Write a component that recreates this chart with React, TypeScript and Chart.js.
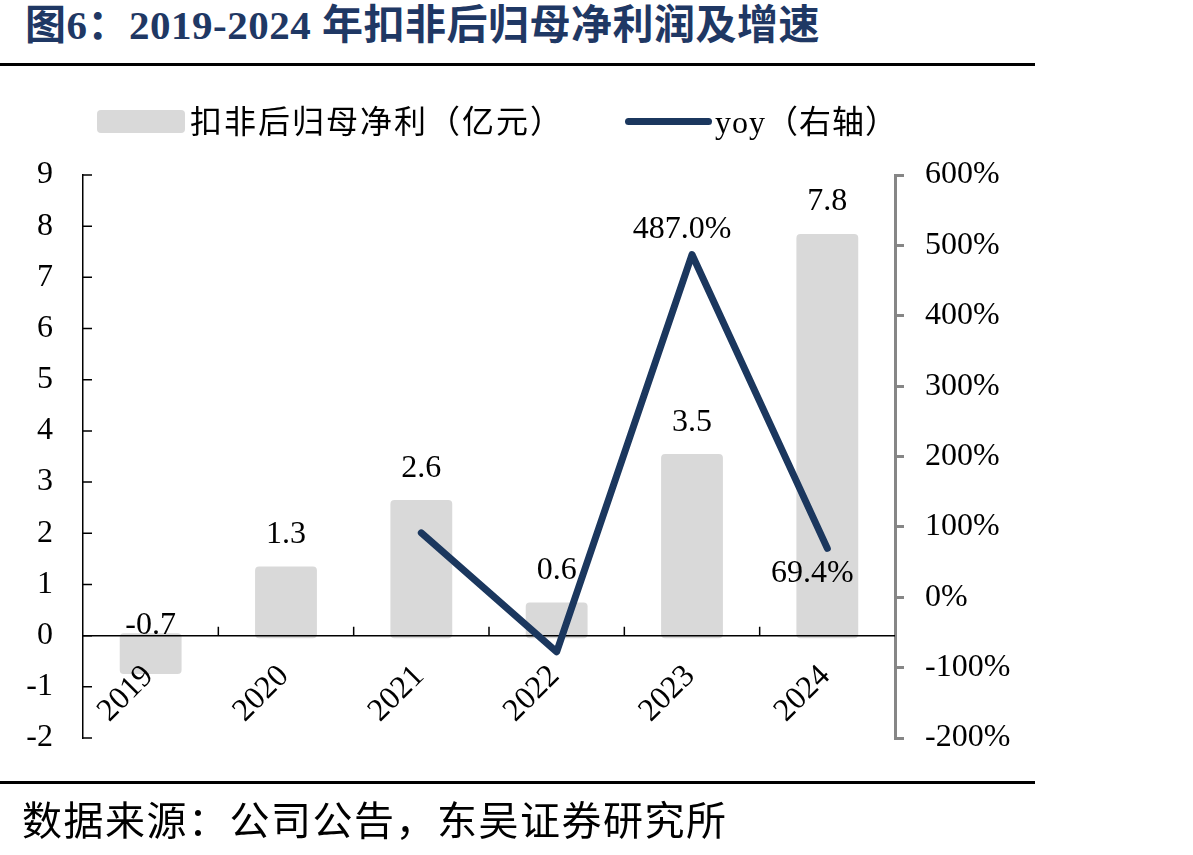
import React, { useEffect, useRef } from 'react';
import { Chart, registerables } from 'chart.js';

Chart.register(...registerables);

// ---------- data ----------
const categories = ['2019', '2020', '2021', '2022', '2023', '2024'];
const netProfit = [-0.7, 1.3, 2.6, 0.6, 3.5, 7.8];
const yoyGrowth: (number | null)[] = [null, null, 91.4, -77.5, 487.0, 69.4];
const yoyLabelled = [false, false, false, false, true, true];
const leftAxisRange = [-2, 9];
const rightAxisRange = [-200, 600];

const titleText = '图6：2019-2024 年扣非后归母净利润及增速';
const legendBarText = '扣非后归母净利（亿元）';
const legendLineText = 'yoy（右轴）';
const sourceText = '数据来源：公司公告，东吴证券研究所';

// ---------- style ----------
const NAVY = '#1b375e';
const TITLE_NAVY = '#1f3864';
const BAR_GREY = '#d9d9d9';
const AXIS_GREY = '#868686';
const SERIF = '"Liberation Serif", "Times New Roman", serif';
const MIXED = '"Liberation Serif", "Noto Sans CJK SC", serif';

const decorPlugin = {
  id: 'decor',
  afterDatasetDraw(chart: any, args: any) {
    if (args.index !== 1) return;
    const { ctx, chartArea, scales } = chart;
    const y0 = scales.y.getPixelForValue(0);
    ctx.save();
    ctx.strokeStyle = '#000';
    ctx.lineWidth = 1.5;
    ctx.beginPath();
    ctx.moveTo(chartArea.left, y0);
    ctx.lineTo(chartArea.right, y0);
    for (let i = 1; i < categories.length; i++) {
      const x = (scales.x.getPixelForValue(i - 1) + scales.x.getPixelForValue(i)) / 2;
      ctx.moveTo(x, y0);
      ctx.lineTo(x, y0 - 9);
    }
    ctx.stroke();
    ctx.restore();
  },
  afterDraw(chart: any) {
    const { ctx, chartArea, scales } = chart;
    ctx.save();
    // inward ticks on left axis
    ctx.strokeStyle = '#000';
    ctx.lineWidth = 1.5;
    ctx.beginPath();
    scales.y.ticks.forEach((t: any) => {
      const y = scales.y.getPixelForValue(t.value);
      ctx.moveTo(chartArea.left, y);
      ctx.lineTo(chartArea.left + 9, y);
    });
    ctx.stroke();

    ctx.fillStyle = '#000';
    ctx.font = '32px ' + SERIF;
    ctx.textAlign = 'center';
    ctx.textBaseline = 'alphabetic';
    const barMeta = chart.getDatasetMeta(1);
    barMeta.data.forEach((el: any, i: number) => {
      const v = netProfit[i];
      const txt = v.toFixed(1);
      if (v >= 0) ctx.fillText(txt, el.x, el.y - 26);
      else ctx.fillText(txt, el.x, el.base - 2);
    });
    const lineMeta = chart.getDatasetMeta(0);
    lineMeta.data.forEach((pt: any, i: number) => {
      const v = yoyGrowth[i];
      if (v == null || !yoyLabelled[i]) return;
      const prev = yoyGrowth[i - 1];
      const next = yoyGrowth[i + 1];
      const isPeak = (prev == null || v >= prev) && (next == null || v >= next);
      const txt = v.toFixed(1) + '%';
      if (isPeak) ctx.fillText(txt, pt.x - 10, pt.y - 17);
      else ctx.fillText(txt, pt.x - 15, pt.y + 34);
    });
    ctx.restore();
  },
};

export default function App() {
  const canvasRef = useRef<HTMLCanvasElement | null>(null);

  useEffect(() => {
    if (!canvasRef.current) return;
    const chart = new Chart(canvasRef.current, {
      type: 'bar',
      data: {
        labels: categories,
        datasets: [
          {
            type: 'line',
            label: 'yoy（右轴）',
            data: yoyGrowth as any,
            yAxisID: 'y1',
            borderColor: NAVY,
            backgroundColor: NAVY,
            borderWidth: 7,
            borderCapStyle: 'round',
            borderJoinStyle: 'round',
            pointRadius: 0,
            tension: 0,
            order: 0,
          } as any,
          {
            type: 'bar',
            label: '扣非后归母净利（亿元）',
            data: netProfit,
            yAxisID: 'y',
            backgroundColor: BAR_GREY,
            borderWidth: 0,
            borderRadius: 4,
            borderSkipped: false,
            inflateAmount: 2.5,
            barPercentage: 0.42,
            categoryPercentage: 1,
            order: 1,
          } as any,
        ],
      },
      options: {
        responsive: false,
        animation: false,
        devicePixelRatio: 1,
        layout: { padding: { top: 175, bottom: 117, left: 0, right: 0 } },
        plugins: {
          legend: { display: false },
          title: { display: false },
          tooltip: { enabled: false },
        },
        scales: {
          x: {
            position: { y: 0 } as any,
            offset: true,
            grid: { display: false, drawTicks: false },
            border: { display: false },
            ticks: {
              z: 1,
              color: '#000',
              font: { family: SERIF, size: 32 },
              minRotation: 45,
              maxRotation: 45,
              padding: 22,
              labelOffset: -2,
              autoSkip: false,
            },
          } as any,
          y: {
            position: 'left',
            min: leftAxisRange[0],
            max: leftAxisRange[1],
            grid: { display: false, drawTicks: false },
            border: { display: true, color: '#000', width: 1.5 },
            ticks: {
              stepSize: 1,
              color: '#000',
              font: { family: SERIF, size: 32 },
              padding: 30,
            },
            afterFit: (s: any) => {
              s.width = 83;
            },
          },
          y1: {
            position: 'right',
            min: rightAxisRange[0],
            max: rightAxisRange[1],
            grid: {
              display: true,
              drawOnChartArea: false,
              drawTicks: true,
              tickLength: 9,
              color: AXIS_GREY,
              lineWidth: 3,
            },
            border: { display: true, color: AXIS_GREY, width: 3 },
            ticks: {
              stepSize: 100,
              color: '#000',
              font: { family: SERIF, size: 32 },
              padding: 21,
              callback: (v: any) => v + '%',
            },
            afterFit: (s: any) => {
              s.width = 298;
            },
          },
        },
      },
      plugins: [decorPlugin],
    });
    return () => chart.destroy();
  }, []);

  const abs = (o: React.CSSProperties): React.CSSProperties => ({ position: 'absolute', ...o });

  return (
    <div style={abs({ left: 0, top: 0, width: 1193, height: 855, background: '#fff', overflow: 'hidden' })}>
      <div
        style={abs({
          left: 25,
          top: 0,
          height: 50,
          lineHeight: '50px',
          fontFamily: MIXED,
          fontWeight: 'bold',
          fontSize: 41,
          letterSpacing: 0.5,
          color: TITLE_NAVY,
          whiteSpace: 'nowrap',
        })}
      >
        {titleText}
      </div>
      <div style={abs({ left: 0, top: 63, width: 1035, height: 3, background: '#000' })} />
      <canvas ref={canvasRef} width={1193} height={855} style={abs({ left: 0, top: 0, width: 1193, height: 855 })} />
      <div style={abs({ left: 97, top: 110, width: 88, height: 23, background: BAR_GREY, borderRadius: 4 })} />
      <div
        style={abs({
          left: 190,
          top: 100,
          height: 44,
          lineHeight: '44px',
          fontFamily: MIXED,
          fontSize: 32,
          letterSpacing: 2,
          color: '#000',
          whiteSpace: 'nowrap',
        })}
      >
        {legendBarText}
      </div>
      <div style={abs({ left: 625, top: 118, width: 87, height: 7, background: NAVY, borderRadius: 4 })} />
      <div
        style={abs({
          left: 715,
          top: 100,
          height: 44,
          lineHeight: '44px',
          fontFamily: MIXED,
          fontSize: 32,
          letterSpacing: 1,
          color: '#000',
          whiteSpace: 'nowrap',
        })}
      >
        {legendLineText}
      </div>
      <div style={abs({ left: 0, top: 781, width: 1035, height: 3, background: '#000' })} />
      <div
        style={abs({
          left: 22,
          top: 798,
          height: 48,
          lineHeight: '48px',
          fontFamily: MIXED,
          fontSize: 40,
          letterSpacing: 1.5,
          color: '#000',
          whiteSpace: 'nowrap',
        })}
      >
        {sourceText}
      </div>
    </div>
  );
}
